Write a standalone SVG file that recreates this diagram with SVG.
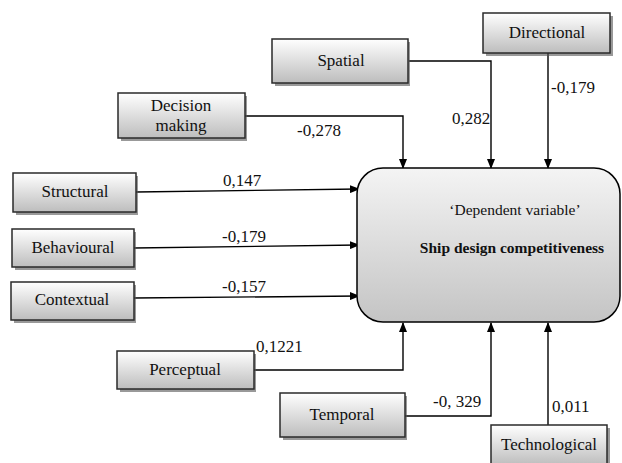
<svg xmlns="http://www.w3.org/2000/svg" width="622" height="463" viewBox="0 0 622 463">
<defs>
<linearGradient id="g" x1="0" y1="0" x2="0" y2="1">
<stop offset="0" stop-color="#ffffff"/>
<stop offset="1" stop-color="#bdbdbd"/>
</linearGradient>
<linearGradient id="gm" x1="0" y1="0" x2="0" y2="1">
<stop offset="0" stop-color="#f4f4f4"/>
<stop offset="1" stop-color="#c4c4c4"/>
</linearGradient>
<marker id="ah" markerWidth="10" markerHeight="8" refX="9" refY="4" orient="auto" markerUnits="userSpaceOnUse">
<path d="M0,0 L10,4 L0,8 Z" fill="#000"/>
</marker>
</defs>
<style>
.box{fill:url(#g);stroke:#2a2a2a;stroke-width:1.5}
.sh{fill:#555;opacity:0.6}
.lbl{font-family:"Liberation Serif","Times New Roman",serif;font-size:17px;fill:#111;text-anchor:middle}
.num{font-family:"Liberation Serif","Times New Roman",serif;font-size:17px;fill:#111}
.c{fill:none;stroke:#000;stroke-width:1.4;marker-end:url(#ah)}
</style>
<rect width="622" height="463" fill="#fff"/>

<g id="connectors">
<path class="c" d="M136,192 L359,189"/>
<path class="c" d="M134,248 L359,245"/>
<path class="c" d="M134,298 L359,296"/>
<path class="c" d="M245,116 L403,116 L403,168"/>
<path class="c" d="M409,61 L491,61 L491,168"/>
<path class="c" d="M548,53 L548,168"/>
<path class="c" d="M254,370 L403,370 L403,323"/>
<path class="c" d="M405,416 L491,416 L491,323"/>
<path class="c" d="M548,425 L548,323"/>
<text class="num" x="223" y="186">0,147</text>
<text class="num" x="222" y="242">-0,179</text>
<text class="num" x="222" y="292">-0,157</text>
<text class="num" x="297" y="136">-0,278</text>
<text class="num" x="452" y="124">0,282</text>
<text class="num" x="551" y="93">-0,179</text>
<text class="num" x="256" y="352">0,1221</text>
<text class="num" x="433" y="407">-0, 329</text>
<text class="num" x="552" y="412">0,011</text>
</g>

<g id="main">
<rect x="357" y="168" width="263" height="154" rx="26" ry="26" fill="url(#gm)" stroke="#000" stroke-width="1.5"/>
<text x="515" y="215" font-family="Liberation Serif, Times New Roman, serif" font-size="15.5" text-anchor="middle" fill="#111">‘Dependent variable’</text>
<text x="512" y="253" font-family="Liberation Serif, Times New Roman, serif" font-size="15.5" font-weight="bold" text-anchor="middle" fill="#111">Ship design competitiveness</text>
</g>

<g id="directional">
<rect class="sh" x="486" y="16" width="127" height="40"/>
<rect class="box" x="483" y="13" width="127" height="40"/>
<text class="lbl" x="547" y="38">Directional</text>
</g>
<g id="spatial">
<rect class="sh" x="275" y="42" width="135" height="44"/>
<rect class="box" x="272" y="39" width="136" height="44"/>
<text class="lbl" x="341" y="66">Spatial</text>
</g>
<g id="decision">
<rect class="sh" x="121" y="96" width="126" height="45"/>
<rect class="box" x="118" y="93" width="127" height="45"/>
<text class="lbl" x="181" y="111">Decision</text>
<text class="lbl" x="181" y="131">making</text>
</g>
<g id="structural">
<rect class="sh" x="16" y="176" width="122" height="39"/>
<rect class="box" x="13" y="173" width="123" height="39"/>
<text class="lbl" x="75" y="197">Structural</text>
</g>
<g id="behavioural">
<rect class="sh" x="15" y="232" width="121" height="38"/>
<rect class="box" x="12" y="229" width="122" height="38"/>
<text class="lbl" x="73" y="253">Behavioural</text>
</g>
<g id="contextual">
<rect class="sh" x="14" y="285" width="122" height="38"/>
<rect class="box" x="11" y="282" width="123" height="38"/>
<text class="lbl" x="72" y="305">Contextual</text>
</g>
<g id="perceptual">
<rect class="sh" x="120" y="354" width="136" height="38"/>
<rect class="box" x="117" y="351" width="137" height="38"/>
<text class="lbl" x="185" y="375">Perceptual</text>
</g>
<g id="temporal">
<rect class="sh" x="283" y="396" width="124" height="44"/>
<rect class="box" x="280" y="393" width="125" height="44"/>
<text class="lbl" x="342" y="420">Temporal</text>
</g>
<g id="technological">
<rect class="sh" x="494" y="428" width="116" height="40"/>
<rect class="box" x="491" y="425" width="116" height="40"/>
<text class="lbl" x="549" y="450">Technological</text>
</g>
</svg>
